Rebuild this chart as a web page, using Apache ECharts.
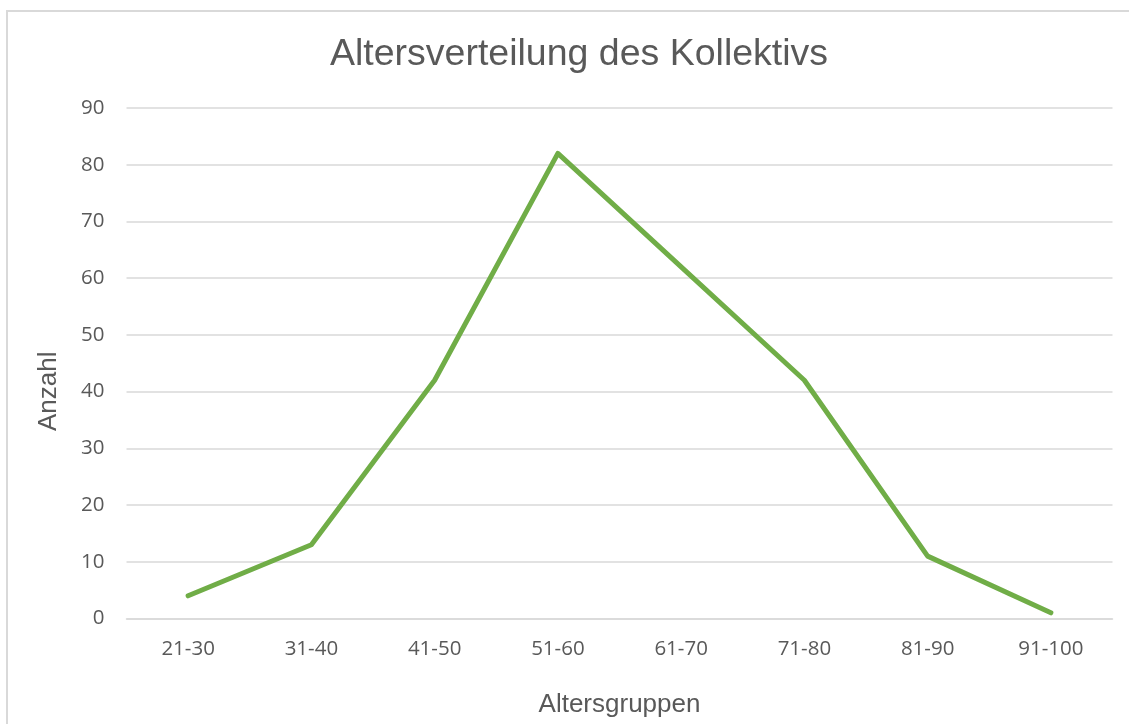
<!DOCTYPE html>
<html>
<head>
<meta charset="utf-8">
<script src="https://cdn.jsdelivr.net/npm/echarts@6/dist/echarts.min.js"></script>
<style>
html,body{margin:0;padding:0;background:#fff;overflow:hidden;}
#chart{width:1129px;height:724px;}
</style>
</head>
<body>
<div id="chart"></div>
<script>
const categories = ['21-30','31-40','41-50','51-60','61-70','71-80','81-90','91-100'];
const counts = [4, 13, 42, 82, 62, 42, 11, 1];
const yMin = 0, yMax = 90, yStep = 10;
const titleText = 'Altersverteilung des Kollektivs';
const xName = 'Altersgruppen';
const yName = 'Anzahl';

const chart = echarts.init(document.getElementById('chart'), null, {renderer:'canvas'});
chart.setOption({
  animation: false,
  backgroundColor: '#ffffff',
  title: {
    text: titleText,
    left: 574, top: 31, textAlign: 'center',
    textStyle: {fontFamily: 'Liberation Sans', fontSize: 37.5, fontWeight: 'normal', color: '#595959'}
  },
  graphic: [{
    type: 'rect', silent: true,
    shape: {x: 7, y: 11, width: 1300, height: 900},
    style: {fill: 'none', stroke: '#d9d9d9', lineWidth: 2}
  }],
  grid: {left: 126.5, right: 16.5, top: 108, bottom: 105.5, containLabel: false},
  xAxis: {
    type: 'category',
    data: categories,
    boundaryGap: true,
    axisLine: {show: true, lineStyle: {color: '#d9d9d9', width: 1.5}},
    axisTick: {show: false},
    axisLabel: {color: '#595959', fontFamily: 'Open Sans', fontSize: 20.5, margin: 20},
    name: xName, nameLocation: 'middle', nameGap: 73,
    nameTextStyle: {color: '#595959', fontFamily: 'Liberation Sans', fontSize: 26}
  },
  yAxis: {
    type: 'value', min: yMin, max: yMax, interval: yStep,
    axisLine: {show: false}, axisTick: {show: false},
    splitLine: {lineStyle: {color: '#d9d9d9', width: 1.5}},
    axisLabel: {color: '#595959', fontFamily: 'Open Sans', fontSize: 20.5, margin: 22},
    name: yName, nameLocation: 'middle', nameGap: 65, nameRotate: 90,
    nameTextStyle: {color: '#595959', fontFamily: 'Liberation Sans', fontSize: 26, padding: [0, 56, 0, 0]}
  },
  series: [{
    type: 'line',
    data: counts,
    symbol: 'none',
    lineStyle: {color: '#70AD47', width: 5, cap: 'round', join: 'round'},
    itemStyle: {color: '#70AD47'}
  }]
});
</script>
</body>
</html>
